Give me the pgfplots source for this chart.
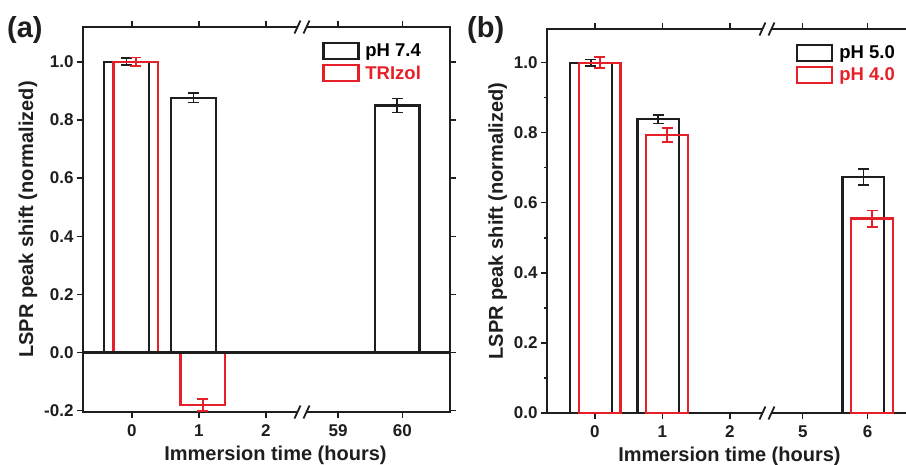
\documentclass[border=0pt]{standalone}
\usepackage{fontspec}
\setmainfont{Liberation Sans}
\usepackage{pgfplots}
\pgfplotsset{compat=1.18}
\definecolor{myred}{RGB}{230,32,40}
\definecolor{myblack}{RGB}{30,30,30}

\pgfplotstableread{
x y e
0 1.000 0.012
1 0.877 0.017
4.04 0.850 0.024
}\aBlack
\pgfplotstableread{
x y e
0 1.000 0.015
1 -0.180 0.021
}\aRed
\pgfplotstableread{
x y e
0 1.000 0.009
1 0.838 0.012
4.04 0.674 0.023
}\bBlack
\pgfplotstableread{
x y e
0 1.000 0.015
1 0.794 0.020
4.04 0.555 0.023
}\bRed

\newcommand{\brk}[1]{%
  \fill[white] ([xshift=-5pt,yshift=-2.5pt]#1) rectangle ([xshift=5pt,yshift=2.5pt]#1);
  \draw[line width=1.8pt,myblack] ([xshift=-7.5pt,yshift=-6.5pt]#1) -- ([xshift=-1.5pt,yshift=6.5pt]#1);
  \draw[line width=1.8pt,myblack] ([xshift=1.5pt,yshift=-6.5pt]#1) -- ([xshift=7.5pt,yshift=6.5pt]#1);
}

\pgfplotsset{
  myaxis/.style={
    scale only axis,
    axis line style={line width=2.2pt, myblack},
    tick style={line width=1.4pt, myblack},
    tick align=outside,
    major tick length=6pt, minor tick length=3.5pt,
    ticklabel style={font=\fontsize{17}{20}\selectfont\bfseries, text=myblack},
    xticklabel style={yshift=-3pt},
    label style={font=\fontsize{20}{24}\selectfont\bfseries, text=myblack},
    xtick={0,1,2,3.08,4.04},
    xlabel={Immersion time (hours)},
    ylabel={LSPR peak shift (normalized)},
    ybar,
    clip=false,
    legend image code/.code={\draw[##1,fill=none] (0pt,-8pt) rectangle (35pt,8pt); \path[draw=none] (0pt,0pt) -- (40pt,0pt);},
    legend style={draw=none, fill=none, font=\fontsize{18.5}{22}\selectfont\bfseries,
      row sep=3.5pt, anchor=north east},
  },
  blk/.style={draw=myblack, fill=none, line width=2.2pt},
  rd/.style={draw=myred, fill=none, line width=2.2pt},
  eb/.style={error bars/.cd, y dir=both, y explicit, error mark=-,
    error bar style={line width=1.8pt, #1},
    error mark options={rotate=90, line width=1.8pt, #1, mark size=5.5pt}},
}

\begin{document}
\begin{tikzpicture}
\path[use as bounding box] (0,0) rectangle (906pt,-465pt);

\begin{axis}[myaxis,
  at={(83pt,-412pt)}, anchor=south west,
  width=367pt, height=385pt,
  xmin=-0.73, xmax=4.75, ymin=-0.205, ymax=1.12,
  xticklabels={0,1,2,59,60},
  ytick={-0.2,0,0.2,0.4,0.6,0.8,1.0},
  yticklabels={-0.2,0.0,0.2,0.4,0.6,0.8,1.0},
  bar width=0.67,
  xlabel style={yshift=-3pt, xshift=9pt},
  legend style={at={(axis description cs:0.935,0.967)}},
]
\addplot[blk, bar shift=-0.08, eb=myblack] table[x=x,y=y,y error=e] {\aBlack};
\addlegendentry{pH 7.4}
\addplot[rd, bar shift=0.06, eb=myred] table[x=x,y=y,y error=e] {\aRed};
\addlegendentry{\textcolor{myred}{TRIzol}}
\draw[line width=2.2pt, myblack] ({rel axis cs:0,0}|-{axis cs:0,0}) -- ({rel axis cs:1,0}|-{axis cs:0,0});
\brk{{axis cs:2.54,1.12}}
\brk{{axis cs:2.54,-0.205}}
\end{axis}

\begin{axis}[myaxis,
  at={(547pt,-413pt)}, anchor=south west,
  width=361pt, height=384pt,
  xmin=-0.71, xmax=4.64, ymin=0, ymax=1.096,
  xticklabels={0,1,2,5,6},
  ytick={0,0.2,0.4,0.6,0.8,1.0},
  yticklabels={0.0,0.2,0.4,0.6,0.8,1.0},
  minor y tick num=1,
  bar width=0.62,
  xlabel style={yshift=-3pt, xshift=2pt},
  legend style={at={(axis description cs:0.978,0.967)}},
]
\addplot[blk, bar shift=-0.06, eb=myblack] table[x=x,y=y,y error=e] {\bBlack};
\addlegendentry{pH 5.0}
\addplot[rd, bar shift=0.07, eb=myred] table[x=x,y=y,y error=e] {\bRed};
\addlegendentry{\textcolor{myred}{pH 4.0}}
\brk{{axis cs:2.55,1.096}}
\brk{{axis cs:2.55,0}}
\end{axis}

\node[font=\fontsize{29}{34}\selectfont\bfseries, text=myblack, anchor=north west, inner sep=0pt] at (7pt,-16pt) {(a)};
\node[font=\fontsize{29}{34}\selectfont\bfseries, text=myblack, anchor=north west, inner sep=0pt] at (467pt,-16pt) {(b)};
\end{tikzpicture}
\end{document}
